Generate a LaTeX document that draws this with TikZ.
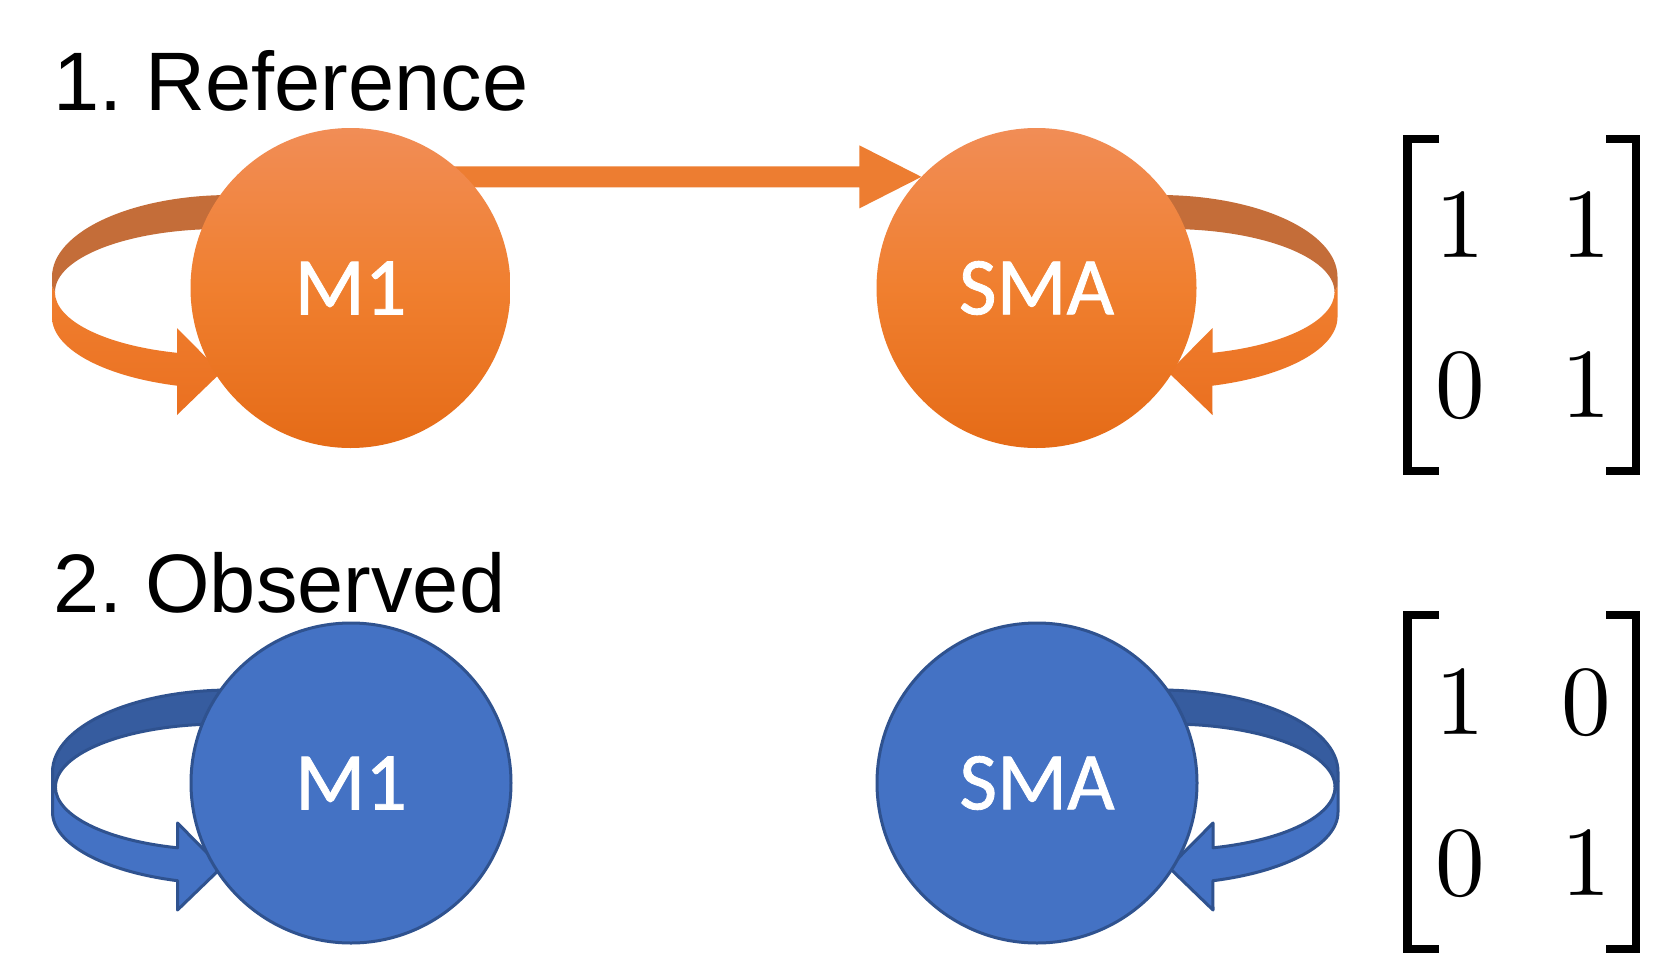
\documentclass[tikz,border=0pt]{standalone}
\usepackage{fontspec}
\setmainfont{Latin Modern Roman}
\newfontfamily\titlefont{Liberation Sans}
\newfontfamily\nodefont{Carlito}[FakeBold=1]
\newfontfamily\digitfont{lmroman10-regular.otf}
\usetikzlibrary{calc}
\definecolor{orA}{HTML}{ED7D31}
\definecolor{orTop}{HTML}{F18D56}
\definecolor{orMid}{HTML}{F07F2F}
\definecolor{orBot}{HTML}{E56B17}
\definecolor{orFrTop}{HTML}{F07F30}
\definecolor{orFrBot}{HTML}{EA7020}
\definecolor{orBack}{HTML}{C46D39}
\definecolor{blA}{HTML}{4472C4}
\definecolor{blLine}{HTML}{2F528F}
\definecolor{blBack}{HTML}{365C9F}
\frenchspacing
\tikzset{
  statecirc/.style={circle, minimum size=320pt, inner sep=0pt, outer sep=0pt,
    text=white, font=\nodefont\fontsize{82}{82}\selectfont},
  orcirc/.style={statecirc, top color=orTop, bottom color=orBot, middle color=orMid},
  blcirc/.style={statecirc, fill=blA, draw=blLine, line width=3pt},
  orback/.style={fill=orBack},
  orfront/.style={top color=orFrTop, bottom color=orFrBot},
  blback/.style={fill=blBack, draw=blLine, line width=3pt, line join=round},
  blfront/.style={fill=blA, draw=blLine, line width=3pt, line join=round},
  titletext/.style={anchor=base west, inner sep=0pt, font=\titlefont\fontsize{83}{83}\selectfont},
  digit/.style={anchor=base, inner sep=0pt, font=\digitfont\fontsize{99}{99}\selectfont},
  bracket/.style={line width=8.5pt, line cap=butt, line join=miter}
}
% self-loop ribbon: #1,#2 centre, #3 xscale, #4 style prefix
\newcommand\selfloop[4]{%
  \begin{scope}[shift={(#1,#2)}, xscale=#3]
    \path[#4back] (-120,-93)
      arc[start angle=-90, end angle=-180, x radius=178.5, y radius=82]
      -- (-298.5,-2) -- (-295.5,4)
      arc[start angle=180, end angle=270, x radius=165.5, y radius=63] -- cycle;
    \path[#4front] (-295.5,4) -- (-298.5,-2) -- (-298.5,29)
      arc[start angle=180, end angle=107.4, x radius=178.5, y radius=72]
      -- (-173.5,127) -- (-129.5,84.5) -- (-173.5,40) -- (-173.5,64.8)
      arc[start angle=105.2, end angle=180, x radius=165.5, y radius=63] -- cycle;
  \end{scope}}
\begin{document}
\begin{tikzpicture}[x=1pt, y=-1pt]
\useasboundingbox (0,0) rectangle (1663,980);
\fill[white] (0,0) rectangle (1663,980);

% titles
\node[titletext] (t1) at (53,110) {1. Reference};
\node[titletext] (t2) at (53,612) {2. Observed};

% self loops (behind the circles)
\selfloop{350.5}{288}{1}{or}
\selfloop{1039}{288}{-1}{or}
\selfloop{351}{783}{1}{bl}
\selfloop{1039.5}{783}{-1}{bl}

% circle nodes used for positions
\path (350.5,288) node[statecirc] (M1o) {}
      (1036.5,288) node[statecirc] (SMAo) {};

% arrow M1 -> SMA (reference)
\coordinate (aS) at (M1o.center |- SMAo.136);
\coordinate (aT) at (SMAo.136);
\fill[orA] ($(aS)+(0,-10.5)$) -- ($(aT)+(-62,-10.5)$) -- ($(aT)+(-62,-31.5)$)
  -- (aT) -- ($(aT)+(-62,31.5)$) -- ($(aT)+(-62,10.5)$) -- ($(aS)+(0,10.5)$) -- cycle;

% circles
\node[orcirc] (M1) at (M1o.center) {M1};
\node[orcirc] (SMA) at (SMAo.center) {SMA};
\node[blcirc] (M1b) at (351,783) {M1};
\node[blcirc] (SMAb) at (1037,783) {SMA};

% matrix 1
\draw[bracket] (1439,139) -- (1407.5,139) -- (1407.5,471) -- (1439,471);
\draw[bracket] (1606,139) -- (1636,139) -- (1636,471) -- (1606,471);
\node[digit] (a11) at (1460,257) {1};
\node[digit] (a12) at (1586,257) {1};
\node[digit] (a21) at (1460,417) {0};
\node[digit] (a22) at (1586,417) {1};

% matrix 2
\draw[bracket] (1439,615) -- (1407.5,615) -- (1407.5,949) -- (1439,949);
\draw[bracket] (1606,615) -- (1636,615) -- (1636,949) -- (1606,949);
\node[digit] (b11) at (1460,734) {1};
\node[digit] (b12) at (1586,734) {0};
\node[digit] (b21) at (1460,895) {0};
\node[digit] (b22) at (1586,895) {1};
\end{tikzpicture}
\end{document}
